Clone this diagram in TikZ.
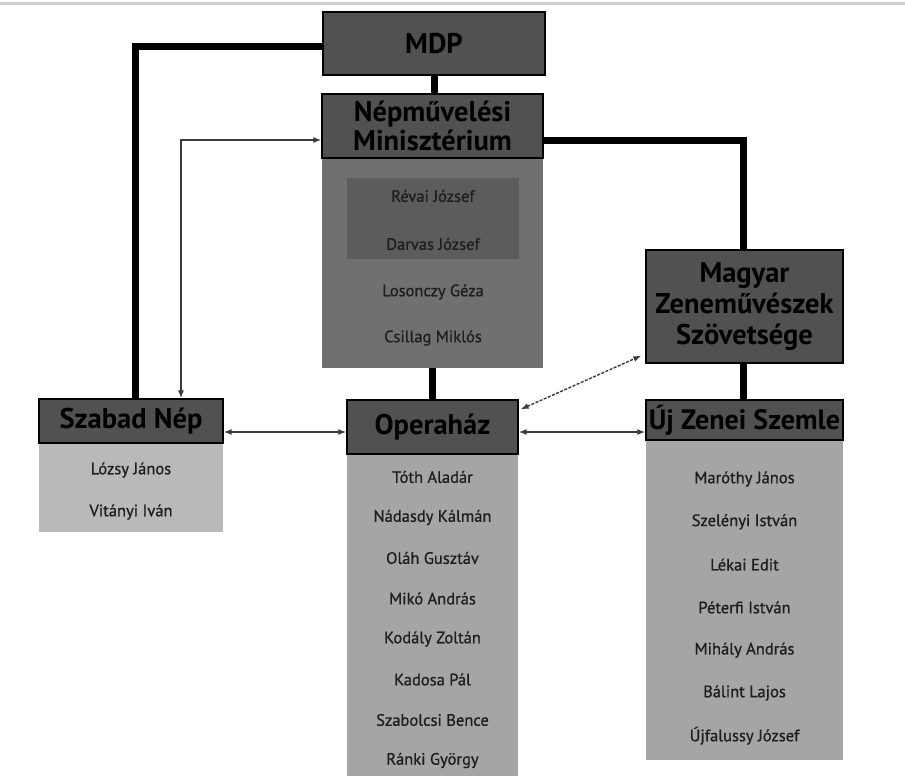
\documentclass[tikz,border=0pt]{standalone}
\usepackage{fontspec}
\setmainfont{PT Sans}
\newfontfamily\namefont[FakeBold=0.8]{PT Sans}
\usetikzlibrary{arrows.meta}
\definecolor{hdrgray}{HTML}{515151}
\definecolor{nmbody}{HTML}{707070}
\definecolor{inner}{HTML}{5C5C5C}
\definecolor{opbody}{HTML}{A5A5A5}
\definecolor{szbody}{HTML}{B9B9B9}
\definecolor{nametext}{HTML}{1E1E1E}
\definecolor{thinline}{HTML}{3A3A3A}
\begin{document}
\begin{tikzpicture}[x=1pt,y=-1pt,
  hdr/.style={draw=black, line width=1.3pt, fill=hdrgray, align=center, inner sep=0pt,
    font=\bfseries\fontsize{28.5}{33}\selectfont, text=black},
  body/.style={fill=#1, inner sep=0pt, draw=none},
  nm/.style={font=\namefont\fontsize{16.5}{18}\selectfont, text=nametext, inner sep=0pt},
  thickline/.style={line width=7pt, black},
  link/.style={draw=thinline, line width=1.4pt, {Latex[length=8pt,width=6pt]}-{Latex[length=8pt,width=6pt]}}
]
\useasboundingbox (0,0) rectangle (905,776);
\fill[white] (0,0) rectangle (905,776);
\coordinate (tl) at (0,4);
\coordinate (tr) at (905,4);
\draw[line width=3pt, black!18] (tl) -- (tr);

% bodies
\node[body=nmbody, minimum width=221pt, minimum height=210pt] (nmb) at (432.5,263) {};
\node[body=inner, minimum width=172pt, minimum height=81pt] (inb) at (433,218.5) {};
\node[body=szbody, minimum width=184pt, minimum height=89pt] (szb) at (131,487.5) {};
\node[body=opbody, minimum width=171pt, minimum height=322pt] (opb) at (432.5,615) {};
\node[body=opbody, minimum width=197pt, minimum height=320pt] (ujb) at (744.5,600) {};

% headers
\node[hdr, minimum width=222pt, minimum height=63pt] (mdp) at (434,43.5) {MDP};
\node[hdr, minimum width=221pt, minimum height=64pt] (nmh) at (432.5,126) {Népművelési\\[-4pt]Minisztérium};
\node[hdr, minimum width=184pt, minimum height=44pt] (sz) at (131,421) {Szabad Nép};
\node[hdr, minimum width=171pt, minimum height=54pt] (op) at (432.5,427) {Operaház};
\node[hdr, minimum width=197pt, minimum height=113pt] (mz) at (744.5,306.5) {Magyar\\[-2pt]Zeneművészek\\[-2pt]Szövetsége};
\node[hdr, minimum width=197pt, minimum height=40pt, font=\bfseries\fontsize{28}{33}\selectfont] (uj) at (744.5,420) {Új Zenei Szemle};

% names
\node[nm] (n1) at (433,196) {Révai József};
\node[nm] (n2) at (433,244) {Darvas József};
\node[nm] (n3) at (433,292) {Losonczy Géza};
\node[nm] (n4) at (433,338) {Csillag Miklós};

\node[nm] (s1) at (131,470) {Lózsy János};
\node[nm] (s2) at (131,512) {Vitányi Iván};

\foreach \t [count=\i from 0] in {Tóth Aladár, Nádasdy Kálmán, Oláh Gusztáv, Mikó András, Kodály Zoltán, Kadosa Pál, Szabolcsi Bence, Ránki György}
  \node[nm] (o\i) at (432.5, 477+\i*40.5) {\t};

\foreach \t [count=\i from 0] in {Maróthy János, Szelényi István, Lékai Edit, Péterfi István, Mihály András, Bálint Lajos, Újfalussy József}
  \node[nm] (u\i) at (744.5, 479+\i*42.8) {\t};

% thick connectors
\draw[thickline] ([yshift=-3pt]mdp.west) -| ([xshift=4pt]sz.north);
\draw[thickline] (mdp.south) -- (mdp.south |- nmh.north);
\draw[thickline] ([yshift=-14pt]nmh.east) -| ([xshift=-1.5pt]mz.north);
\draw[thickline] (nmb.south) -- (op.north);
\draw[thickline] ([xshift=-1.5pt]mz.south) -- ([xshift=-1.5pt]uj.north);

% thin connectors
\draw[link] ([xshift=50pt]sz.north) |- ([yshift=-14pt]nmh.west);
\draw[link] ([yshift=-11pt]sz.east) -- ([yshift=-5pt]op.west);
\draw[link] ([yshift=-5pt]op.east) -- ([yshift=-12pt]uj.west);
\draw[link, dash pattern=on 3pt off 1.5pt] ([shift={(2pt,-10pt)}]op.north east) -- ([shift={(-4pt,8pt)}]mz.south west);
\end{tikzpicture}
\end{document}
